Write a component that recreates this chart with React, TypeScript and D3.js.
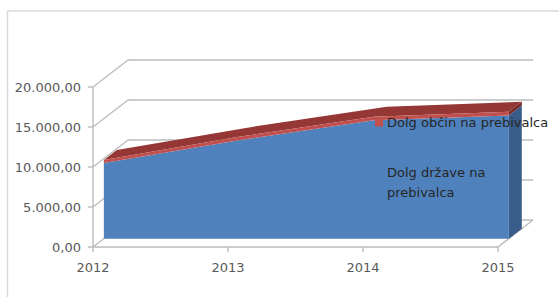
import * as d3 from 'd3';
import React from 'react';

// values (per capita debt, EUR)
const years = [2012, 2013, 2014, 2015];
const drzava = [9450, 12300, 14800, 15400];
const obcine = [380, 420, 440, 450];
const yTicks = [0, 5000, 10000, 15000, 20000];
const labelDrzava = ['Dolg države na', 'prebivalca'];
const labelObcine = 'Dolg občin na prebivalca';

const sl = d3.formatLocale({ decimal: ',', thousands: '.', grouping: [3], currency: ['', ' €'] });
const fmt = sl.format(',.2f');

const width = 559;
const height = 297;
const depth = { dx: 35, dy: -27 };
const f0 = 0.31;
const f1 = 0.68;
const gridColor = '#bcbcbc';
const font = '"DejaVu Sans", sans-serif';

const x = d3.scalePoint<number>().domain(years).range([93, 498]);
const y = d3.scaleLinear().domain([0, 20000]).range([247, 87]);

const P = (yr: number, v: number, f: number): [number, number] => [
  (x(yr) as number) + f * depth.dx,
  y(v) + f * depth.dy,
];

const poly = (pts: [number, number][]) => 'M' + pts.map((p) => p.join(',')).join('L') + 'Z';

export default function App() {
  const tops = drzava.map((d, i) => d + obcine[i]);
  const last = years.length - 1;

  // front faces (at depth f0)
  const blueFront = poly([
    ...years.map((yr, i) => P(yr, drzava[i], f0)),
    P(years[last], 0, f0),
    P(years[0], 0, f0),
  ]);
  const redFront = poly([
    ...years.map((yr, i) => P(yr, tops[i], f0)),
    ...years.map((yr, i) => P(yr, drzava[i], f0)).reverse(),
  ]);
  // top surface of the stack
  const redTop = poly([
    ...years.map((yr, i) => P(yr, tops[i], f0)),
    ...years.map((yr, i) => P(yr, tops[i], f1)).reverse(),
  ]);
  // right side faces at 2015
  const ly = years[last];
  const blueSide = poly([P(ly, 0, f0), P(ly, drzava[last], f0), P(ly, drzava[last], f1), P(ly, 0, f1)]);
  const redSide = poly([
    P(ly, drzava[last], f0),
    P(ly, tops[last], f0),
    P(ly, tops[last], f1),
    P(ly, drzava[last], f1),
  ]);

  return (
    <svg width={width} height={height} style={{ position: 'absolute', left: 0, top: 0, background: '#fff' }}>
      <rect x={7.5} y={11} width={600} height={320} fill="#fff" stroke="#d9d9d9" strokeWidth={1.5} />

      {/* back wall gridlines and left wall */}
      <g stroke={gridColor} strokeWidth={1.4} fill="none">
        {yTicks.map((t) => {
          const a = P(years[0], t, 1);
          const b = P(years[last], t, 1);
          const c = P(years[0], t, 0);
          return (
            <g key={t}>
              <line x1={a[0]} y1={a[1]} x2={b[0]} y2={b[1]} />
              <line x1={c[0]} y1={c[1]} x2={a[0]} y2={a[1]} />
              <line x1={c[0] - 5} y1={c[1]} x2={c[0]} y2={c[1]} />
            </g>
          );
        })}
        {/* y axis */}
        <line x1={P(years[0], 0, 0)[0]} y1={y(0)} x2={P(years[0], 0, 0)[0]} y2={y(20000)} />
        {/* floor front edge + right edge */}
        <line x1={x(years[0])} y1={y(0)} x2={x(ly)} y2={y(0)} />
        <line x1={P(ly, 0, 0)[0]} y1={P(ly, 0, 0)[1]} x2={P(ly, 0, 1)[0]} y2={P(ly, 0, 1)[1]} />
        {years.map((yr) => (
          <line key={yr} x1={x(yr)} y1={y(0)} x2={x(yr)} y2={y(0) + 5} />
        ))}
      </g>

      {/* area series */}
      <path d={redTop} fill="#953735" />
      <path d={blueSide} fill="#385d8a" />
      <path d={redSide} fill="#772c2a" />
      <path d={blueFront} fill="#4f81bd" />
      <path d={redFront} fill="#c0504d" />

      {/* axis labels */}
      <g fontFamily={font} fontSize={13} fill="#595959">
        {yTicks.map((t) => (
          <text key={t} x={81} y={y(t)} dy="0.35em" textAnchor="end">
            {fmt(t)}
          </text>
        ))}
        {years.map((yr) => (
          <text key={yr} x={x(yr)} y={272} textAnchor="middle">
            {yr}
          </text>
        ))}
      </g>

      {/* data labels */}
      <g fontFamily={font} fontSize={13} fill="#262626">
        <rect x={375} y={118.5} width={8} height={8} fill="#c0504d" />
        <text x={387} y={127}>{labelObcine}</text>
        <text x={387} y={177}>{labelDrzava[0]}</text>
        <text x={387} y={197}>{labelDrzava[1]}</text>
      </g>
    </svg>
  );
}
